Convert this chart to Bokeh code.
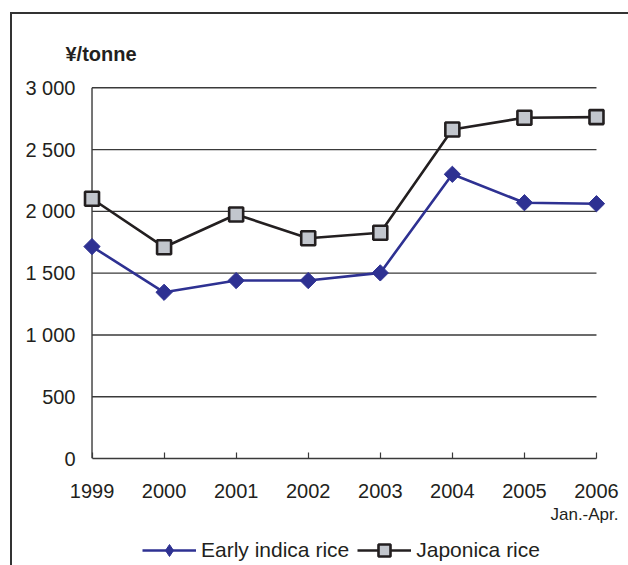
from bokeh.plotting import figure
from bokeh.layouts import column
from bokeh.models import Range1d, FixedTicker, Legend, LegendItem, Title, ColumnDataSource
from bokeh.embed import file_html
from bokeh.resources import INLINE
import math

# ---- data ----
years = [1999, 2000, 2001, 2002, 2003, 2004, 2005, 2006]
year_labels = ["1999", "2000", "2001", "2002", "2003", "2004", "2005", "2006"]
early_indica = [1715, 1345, 1440, 1440, 1502, 2300, 2070, 2062]
japonica = [2102, 1710, 1975, 1783, 1827, 2662, 2758, 2763]
y_ticks = [0, 500, 1000, 1500, 2000, 2500, 3000]
y_tick_labels = ["0", "500", "1 000", "1 500", "2 000", "2 500", "3 000"]
unit_label = "¥/tonne"
period_note = "Jan.-Apr."
series_names = ["Early indica rice", "Japonica rice"]

FONT = "Liberation Sans"
BLUE = "#2e3192"
DARK = "#231f20"
GRID = "#3a3a3a"
TEXT = "#231f20"
SQ_FILL = "#c2c6cd"

# ---------------- main chart ----------------
p = figure(width=616, height=516, output_backend="svg", toolbar_location=None,
           x_range=Range1d(1998.868, 2006.139), y_range=Range1d(0, 3018.6),
           min_border_left=70, min_border_right=22, min_border_top=71, min_border_bottom=72)
p.outline_line_color = None
p.xgrid.visible = False
p.ygrid.visible = False
p.background_fill_color = "white"
p.border_fill_color = "white"

# gridlines (from 1999 to 2006 only) and left axis line
grid_src = ColumnDataSource(dict(x0=[years[0]] * (len(y_ticks) - 1),
                                 x1=[years[-1]] * (len(y_ticks) - 1),
                                 y=y_ticks[1:]))
p.segment(x0="x0", y0="y", x1="x1", y1="y", source=grid_src, line_color=GRID, line_width=1.4)
p.segment(x0=[years[0]], y0=[y_ticks[0]], x1=[years[0]], y1=[y_ticks[-1]], line_color=GRID, line_width=1.4)

# series
p.line(years, early_indica, line_color=BLUE, line_width=2.6)
p.scatter(years, early_indica, marker="square", angle=math.pi / 4, size=11.5,
          fill_color=BLUE, line_color=BLUE, line_width=1)
p.line(years, japonica, line_color=DARK, line_width=2.6)
p.scatter(years, japonica, marker="square", size=14,
          fill_color=SQ_FILL, line_color=DARK, line_width=2.6)

# axes
xa = p.xaxis[0]
xa.ticker = FixedTicker(ticks=years)
xa.major_label_overrides = {y: l for y, l in zip(years, year_labels)}
xa.bounds = (years[0], years[-1])
xa.axis_line_color = GRID
xa.axis_line_width = 1.4
xa.major_tick_in = 6
xa.major_tick_out = 0
xa.major_tick_line_color = GRID
xa.major_tick_line_width = 1.2
xa.minor_tick_line_color = None
xa.major_label_text_font = FONT
xa.major_label_text_font_size = "20px"
xa.major_label_text_color = TEXT
xa.major_label_standoff = 25

ya = p.yaxis[0]
ya.ticker = FixedTicker(ticks=y_ticks)
ya.major_label_overrides = {t: l for t, l in zip(y_ticks, y_tick_labels)}
ya.axis_line_color = None
ya.major_tick_line_color = None
ya.minor_tick_line_color = None
ya.major_tick_out = 0
ya.major_tick_in = 0
ya.major_label_text_font = FONT
ya.major_label_text_font_size = "20px"
ya.major_label_text_color = TEXT
ya.major_label_standoff = 7

# texts in side panels
p.add_layout(Title(text=unit_label, align="left", offset=-17, standoff=42,
                   text_font=FONT, text_font_size="20px", text_font_style="bold",
                   text_color=TEXT), "above")
p.add_layout(Title(text=period_note, align="right", offset=-12, standoff=5,
                   text_font=FONT, text_font_size="17px", text_font_style="normal",
                   text_color=TEXT), "below")

# ---------------- legend strip ----------------
lg = figure(width=616, height=35, output_backend="svg", toolbar_location=None,
            x_range=Range1d(0, 1), y_range=Range1d(0, 1),
            x_axis_location=None, y_axis_location=None,
            min_border_left=0, min_border_right=0, min_border_top=0, min_border_bottom=0)
lg.outline_line_color = None
lg.xgrid.visible = False
lg.ygrid.visible = False
lg.background_fill_color = "white"
lg.border_fill_color = "white"

# same series (outside this strip's ranges, so only their legend glyphs show)
ll1 = lg.line(years, early_indica, line_color=BLUE, line_width=2.6)
ls1 = lg.scatter(years, early_indica, marker="diamond", size=12,
                 fill_color=BLUE, line_color=BLUE, line_width=1)
ll2 = lg.line(years, japonica, line_color=DARK, line_width=2.6)
ls2 = lg.scatter(years, japonica, marker="square", size=14,
                 fill_color=SQ_FILL, line_color=DARK, line_width=2.6)

legend = Legend(items=[LegendItem(label=series_names[0], renderers=[ll1, ls1]),
                       LegendItem(label=series_names[1], renderers=[ll2, ls2])],
                location=(60, 0), orientation="horizontal",
                glyph_width=54, glyph_height=30, label_height=30, label_standoff=5, spacing=8,
                padding=0, margin=0, border_line_color=None, background_fill_alpha=0,
                label_text_font=FONT, label_text_font_size="21px", label_text_color=TEXT)
lg.add_layout(legend)

layout = column(p, lg, spacing=0)
layout.styles = {"margin-left": "10px", "margin-top": "12px",
                 "border-left": "2px solid #333333", "border-top": "2px solid #333333"}

open("out.html", "w").write(file_html(layout, INLINE))
